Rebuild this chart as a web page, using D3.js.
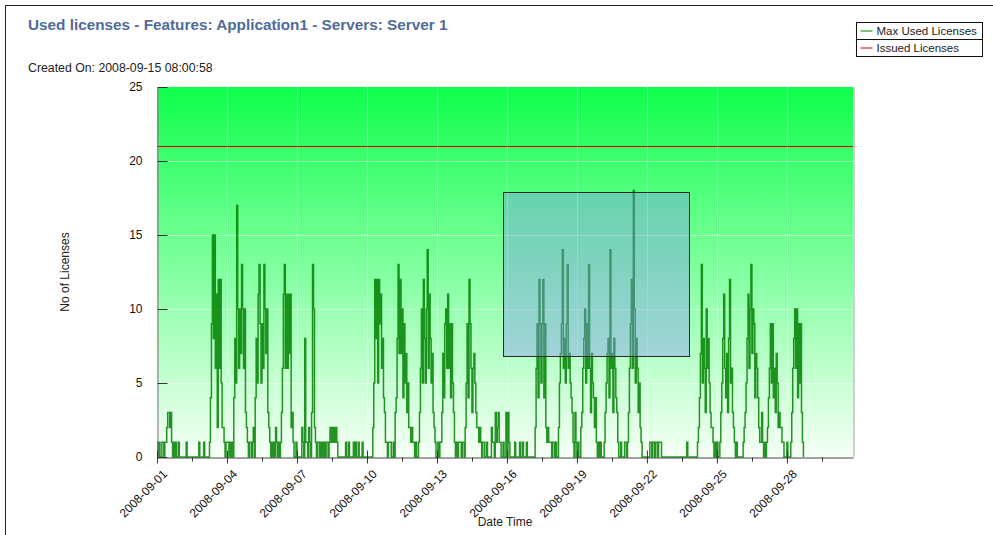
<!DOCTYPE html>
<html>
<head>
<meta charset="utf-8">
<script src="https://cdn.jsdelivr.net/npm/d3@7"></script>
<style>
  body { margin: 0; background: #fff; }
  svg { display: block; font-family: "Liberation Sans", Arial, sans-serif; }
</style>
</head>
<body>
<div id="chart"></div>
<script>
const title = "Used licenses - Features: Application1 - Servers: Server 1";
const createdOn = "Created On: 2008-09-15 08:00:58";
const xTitle = "Date Time";
const yTitle = "No of Licenses";
const seriesNames = ["Max Used Licenses", "Issued Licenses"];
const seriesColors = ["#008000", "#e00000"];
const issuedLicenses = 21;
const timeDomain = ["2008-09-01T00:00:00Z", "2008-09-30T20:00:00Z"];
const tickDates = ["2008-09-01", "2008-09-04", "2008-09-07", "2008-09-10", "2008-09-13",
  "2008-09-16", "2008-09-19", "2008-09-22", "2008-09-25", "2008-09-28"];
const yTicks = [0, 5, 10, 15, 20, 25];
// zoom selection box: [from, to, low, high]
const selection = ["2008-09-15T20:10:00Z", "2008-09-23T19:30:00Z", 6.8, 17.9];

// hourly max used licenses, one line per day, starting 2008-09-01 00:00
const week1 = [
  1,0,1,0,0,1,1,0,1,1,2,3,3,2,3,1,0,1,0,1,0,0,1,0,
  0,0,0,0,0,0,1,0,0,0,0,0,0,0,0,0,0,0,0,1,0,0,0,0,
  1,0,0,0,0,0,1,4,9,15,8,15,6,11,2,12,6,12,5,2,2,1,0,1,
  1,1,0,1,0,1,0,4,8,5,17,10,6,10,7,13,10,6,10,3,2,1,0,1,
  1,0,1,2,0,4,8,5,11,13,9,5,9,6,13,10,7,10,3,2,1,0,1,0,
  1,0,2,1,0,1,0,1,3,6,11,13,6,11,6,11,7,11,2,3,1,0,0,1,
  0,0,0,0,0,2,1,0,8,1,1,0,2,1,0,3,13,10,2,1,0,1,1,0
];
const week2 = [
  1,0,1,0,1,0,1,1,0,1,2,1,2,1,2,1,2,1,0,0,0,0,0,0,
  0,0,1,0,0,1,0,0,0,0,1,0,1,0,0,1,0,0,0,1,0,0,0,0,
  0,0,0,0,0,0,2,5,12,8,12,5,12,9,11,6,8,4,3,1,1,0,1,1,
  1,0,0,1,0,3,4,8,13,7,12,7,10,4,9,5,7,3,5,2,2,1,2,1,
  1,0,1,0,0,1,3,6,10,5,12,8,5,10,14,6,11,8,5,7,3,2,1,0,
  0,1,0,1,1,3,7,4,9,10,6,11,6,9,4,9,5,3,1,0,1,0,1,1,
  1,0,1,1,0,2,5,9,4,12,9,6,3,6,7,5,3,2,2,1,2,1,0,1
];
const week3 = [
  1,0,0,1,0,0,0,0,2,1,1,0,3,1,2,3,1,1,0,0,1,0,0,3,
  0,3,1,0,0,0,0,0,1,0,0,0,0,1,0,0,1,0,0,0,1,0,0,0,
  0,0,0,0,0,2,6,9,4,12,9,5,9,12,4,9,2,1,2,1,1,1,0,1,
  1,0,1,0,0,2,5,7,9,14,6,8,5,9,13,6,7,5,4,3,1,0,3,1,
  0,1,0,0,2,3,6,8,10,5,9,6,13,6,3,7,5,4,2,4,1,0,1,0,
  1,0,0,0,1,3,5,7,8,4,14,6,7,3,8,6,4,3,1,0,0,1,0,0,
  0,1,1,0,1,3,6,9,12,6,18,10,5,8,6,3,5,2,1,0,0,0,0,0
];
const week4 = [
  0,0,0,1,1,0,1,1,0,1,1,0,1,1,1,0,0,0,0,0,0,0,0,0,
  0,0,0,0,0,0,0,0,0,0,0,0,0,0,0,0,0,1,0,0,0,0,0,0,
  0,0,0,0,1,2,4,7,13,5,8,6,3,10,6,8,5,3,2,2,1,0,1,0,
  1,0,0,1,3,5,8,11,6,4,7,3,8,12,5,6,3,2,1,0,1,0,0,0,
  0,0,0,1,2,3,5,8,11,6,10,13,7,10,9,4,7,6,4,2,1,1,3,1,
  0,1,0,1,2,4,6,9,5,9,4,6,3,7,5,2,3,2,2,1,1,0,0,0,
  1,0,0,0,1,3,6,8,10,6,10,4,9,5,9,3,1,0
];

const width = 993, height = 535;
const margin = { top: 87, right: 140, bottom: 78, left: 157 };
const hour = 3600 * 1000;
const t0 = new Date(timeDomain[0]).getTime();

const used = [...week1, ...week2, ...week3, ...week4].map((v, i) => ({
  date: new Date(t0 + i * hour),
  value: v,
}));

const x = d3.scaleUtc()
  .domain(timeDomain.map((d) => new Date(d)))
  .range([margin.left, width - margin.right]);
const y = d3.scaleLinear()
  .domain([0, 25])
  .range([height - margin.bottom, margin.top]);

const svg = d3.select("#chart").append("svg")
  .attr("width", width)
  .attr("height", height);

// outer frame (only top and left edges visible)
svg.append("rect")
  .attr("x", 5.5).attr("y", 5.5)
  .attr("width", width + 20).attr("height", height + 20)
  .attr("fill", "none").attr("stroke", "#222");

const defs = svg.append("defs");
const grad = defs.append("linearGradient")
  .attr("id", "bg")
  .attr("x1", 0).attr("y1", 0).attr("x2", 0).attr("y2", 1);
grad.append("stop").attr("offset", "0%").attr("stop-color", "#10ff4c");
grad.append("stop").attr("offset", "100%").attr("stop-color", "#f6fff6");

const [px0, px1] = x.range();
const [py1, py0] = y.range();

svg.append("rect")
  .attr("x", px0).attr("y", py0)
  .attr("width", px1 - px0).attr("height", py1 - py0)
  .attr("fill", "url(#bg)");

// right shade of the plot area
svg.append("line")
  .attr("x1", px1 + 1).attr("x2", px1 + 1)
  .attr("y1", py0).attr("y2", py1)
  .attr("stroke", "#cfcfcf").attr("stroke-width", 2);

const tickValues = tickDates.map((d) => new Date(d + "T00:00:00Z"));
const minorTicks = tickValues.map((d) => new Date(d.getTime() + 36 * hour))
  .filter((d) => x(d) < px1);

// grid
const grid = svg.append("g")
  .attr("stroke", "#fff")
  .attr("stroke-opacity", 0.45);
grid.selectAll(".gx")
  .data(tickValues.slice(1))
  .join("line")
  .attr("x1", (d) => Math.round(x(d)) + 0.5)
  .attr("x2", (d) => Math.round(x(d)) + 0.5)
  .attr("y1", py0).attr("y2", py1);
grid.selectAll(".gy")
  .data(yTicks.filter((d) => d > 0 && d < 25))
  .join("line")
  .attr("x1", px0).attr("x2", px1)
  .attr("y1", (d) => Math.round(y(d)) + 0.5)
  .attr("y2", (d) => Math.round(y(d)) + 0.5);

// issued licenses
svg.append("line")
  .attr("x1", px0).attr("x2", px1)
  .attr("y1", Math.round(y(issuedLicenses)) + 0.5)
  .attr("y2", Math.round(y(issuedLicenses)) + 0.5)
  .attr("stroke", seriesColors[1])
  .attr("stroke-width", 1);

// max used licenses
const line = d3.line()
  .x((d) => x(d.date))
  .y((d) => y(d.value))
  .curve(d3.curveStepAfter);

svg.append("path")
  .datum(used)
  .attr("fill", "none")
  .attr("stroke", seriesColors[0])
  .attr("stroke-width", 1.5)
  .attr("stroke-opacity", 0.85)
  .attr("d", line);

// selection box
svg.append("rect")
  .attr("x", Math.round(x(new Date(selection[0]))) + 0.5)
  .attr("y", Math.round(y(selection[3])) + 0.5)
  .attr("width", Math.round(x(new Date(selection[1])) - x(new Date(selection[0]))))
  .attr("height", Math.round(y(selection[2]) - y(selection[3])))
  .attr("fill", "#8296ee")
  .attr("fill-opacity", 0.42)
  .attr("stroke", "#2a2a2a")
  .attr("stroke-width", 1);

// y axis
svg.append("g")
  .attr("transform", `translate(${px0 + 0.5},0)`)
  .call(d3.axisLeft(y).tickValues(yTicks).tickSizeInner(10).tickSizeOuter(0).tickPadding(5))
  .call((g) => g.select(".domain").attr("stroke", "#777"))
  .call((g) => g.selectAll(".tick line").attr("x2", 10).attr("stroke", "#333"))
  .call((g) => g.selectAll(".tick text")
    .attr("font-size", 12).attr("fill", "#111")
    .attr("font-family", "Liberation Sans, Arial, sans-serif"));

// x axis
const gX = svg.append("g")
  .attr("transform", `translate(0,${py1 + 0.5})`)
  .call(d3.axisBottom(x).tickValues(tickValues).tickSizeInner(6).tickSizeOuter(0)
    .tickFormat(d3.utcFormat("%Y-%m-%d")))
  .call((g) => g.select(".domain").attr("stroke", "#444"))
  .call((g) => g.selectAll(".tick line").attr("y1", -7).attr("stroke", "#333"))
  .call((g) => g.selectAll(".tick text")
    .attr("font-size", 12).attr("fill", "#111")
    .attr("font-family", "Liberation Sans, Arial, sans-serif")
    .attr("text-anchor", "end")
    .attr("dy", 0)
    .attr("transform", "translate(4,11) rotate(-45)"));

gX.selectAll(".minor")
  .data(minorTicks)
  .join("line")
  .attr("class", "minor")
  .attr("x1", (d) => Math.round(x(d)) + 0.5)
  .attr("x2", (d) => Math.round(x(d)) + 0.5)
  .attr("y1", 0).attr("y2", 4)
  .attr("stroke", "#333");

// titles
svg.append("text")
  .attr("x", 28).attr("y", 30)
  .attr("font-size", 15.3).attr("font-weight", "bold")
  .attr("fill", "#4f6b99")
  .text(title);

svg.append("text")
  .attr("x", 28).attr("y", 72)
  .attr("font-size", 12.3).attr("fill", "#222")
  .text(createdOn);

svg.append("text")
  .attr("x", (px0 + px1) / 2).attr("y", 526)
  .attr("text-anchor", "middle")
  .attr("font-size", 12).attr("fill", "#222")
  .text(xTitle);

svg.append("text")
  .attr("transform", `translate(69,${(py0 + py1) / 2}) rotate(-90)`)
  .attr("text-anchor", "middle")
  .attr("font-size", 12).attr("fill", "#222")
  .text(yTitle);

// legend
const legend = svg.append("g").attr("transform", "translate(856.5,22.5)");
const legW = 126, rowH = 17;
legend.append("rect")
  .attr("width", legW).attr("height", rowH * 2)
  .attr("fill", "#fff").attr("stroke", "#111");
legend.append("line")
  .attr("x1", 0).attr("x2", legW)
  .attr("y1", rowH).attr("y2", rowH)
  .attr("stroke", "#111");
const rows = legend.selectAll(".row")
  .data(seriesNames)
  .join("g")
  .attr("transform", (d, i) => `translate(0,${i * rowH})`);
rows.append("line")
  .attr("x1", 4).attr("x2", 16)
  .attr("y1", rowH / 2).attr("y2", rowH / 2)
  .attr("stroke", (d, i) => seriesColors[i]);
rows.append("text")
  .attr("x", 20).attr("y", rowH / 2 + 4)
  .attr("font-size", 11.5).attr("fill", "#222")
  .text((d) => d);
</script>
</body>
</html>
